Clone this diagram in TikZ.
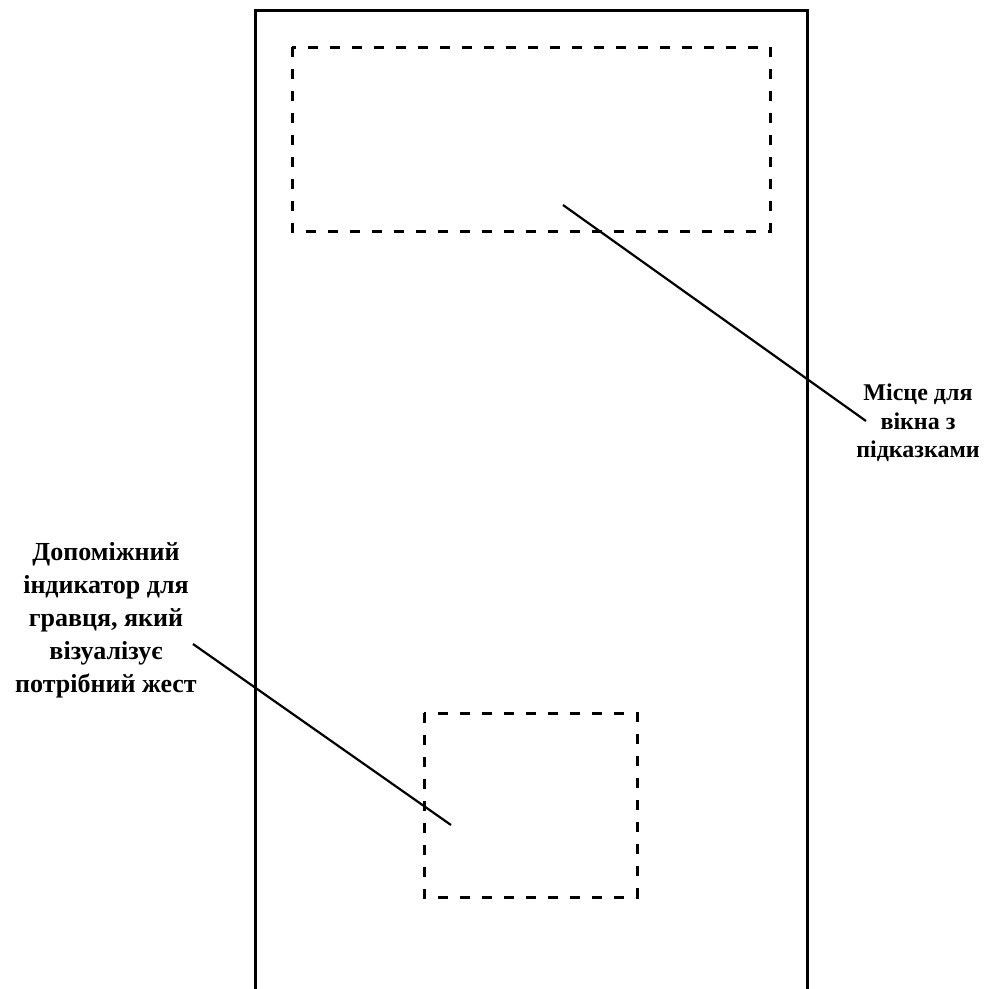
\documentclass[tikz,border=0pt]{standalone}
\usepackage{fontspec}
\setmainfont{Liberation Serif}
\begin{document}
\begin{tikzpicture}[x=1pt,y=-1pt,
  frame/.style={line width=3pt},
  dashbox/.style={line width=3pt,dash pattern=on 10pt off 12pt},
  leader/.style={line width=2.2pt},
  labeltext/.style={align=center,inner sep=0pt}]
\useasboundingbox (0,0) rectangle (987,989);
% outer frame (open at bottom)
\draw[frame] (255,995) -- (255,10) -- (807,10) -- (807,995);
% dashed areas
\draw[dashbox] (292,47) rectangle (770,231);
\draw[dashbox] (424,713) rectangle (637,897);
% labels
\node[labeltext,font=\bfseries\fontsize{24}{28.5}\selectfont] (hint) at (918,423)
  {Місце для\\вікна з\\підказками};
\node[labeltext,font=\bfseries\fontsize{26}{33}\selectfont] (ind) at (106,620)
  {Допоміжний\\індикатор для\\гравця, який\\візуалізує\\потрібний жест};
% leader coordinates
\coordinate (a1) at (563,205);
\coordinate (a2) at (866,421);
\coordinate (b1) at (193,644);
\coordinate (b2) at (451,825);
\draw[leader] (a1) -- (a2);
\draw[leader] (b1) -- (b2);
\end{tikzpicture}
\end{document}
